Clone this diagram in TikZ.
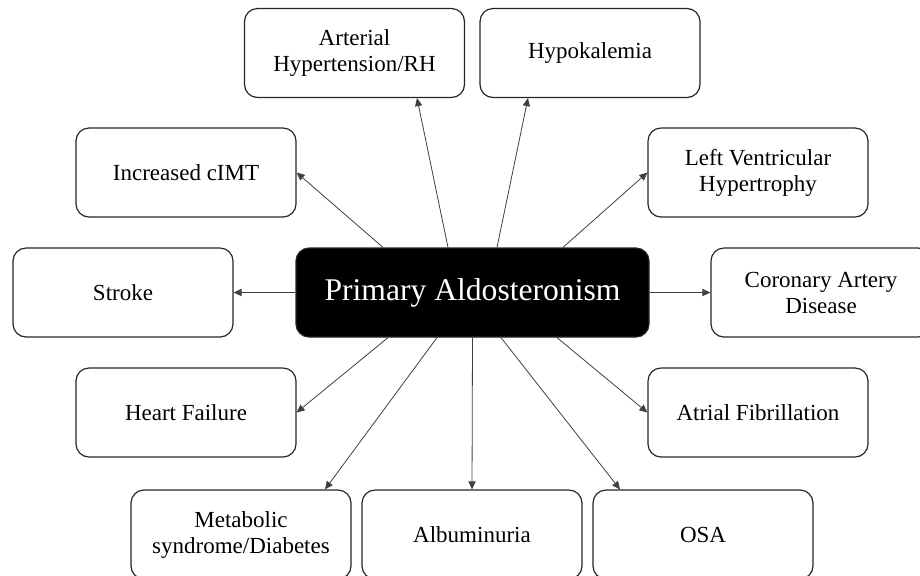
\documentclass[tikz,border=0pt]{standalone}
\usepackage{fontspec}
\setmainfont{Liberation Serif}
\usepackage{tikz}
\usetikzlibrary{arrows.meta}

\begin{document}
\begin{tikzpicture}[
    x=0.5pt, y=-0.5pt,
    box/.style={draw=black!85, line width=0.6pt, rounded corners=6.5pt, minimum width=110pt,
                minimum height=44.5pt, inner sep=0pt, align=center,
                font=\fontsize{11.5}{13}\selectfont},
    hub/.style={box, fill=black, text=white, minimum width=176.5pt,
                font=\fontsize{15.8}{18}\selectfont},
    arr/.style={-{Triangle[length=4pt, width=3.6pt]}, line width=0.4pt, draw=black!75}
]
\useasboundingbox (0,0) rectangle (920,575);
\node[hub] (pa) at (472.5,292.5) {Primary Aldosteronism};

\node[box] (art) at (354.5,53) {Arterial\\Hypertension/RH};
\node[box] (hypo) at (590,53) {Hypokalemia};
\node[box] (cimt) at (186,172.5) {Increased cIMT};
\node[box] (lvh) at (758,172.5) {Left Ventricular\\Hypertrophy};
\node[box] (stroke) at (123,292.5) {Stroke};
\node[box] (cad) at (821,292.5) {Coronary Artery\\Disease};
\node[box] (hf) at (186,412.5) {Heart Failure};
\node[box] (af) at (758,412.5) {Atrial Fibrillation};
\node[box] (met) at (241,534.5) {Metabolic\\syndrome/Diabetes};
\node[box] (alb) at (472,534.5) {Albuminuria};
\node[box] (osa) at (703,534.5) {OSA};

% upper side
\draw[arr] ([xshift=-44.75pt]pa.north) -- (cimt.east);
\draw[arr] ([xshift=-12.25pt]pa.north) -- ([xshift=31.25pt]art.south);
\draw[arr] ([xshift=12.25pt]pa.north) -- ([xshift=-31pt]hypo.south);
\draw[arr] ([xshift=45.25pt]pa.north) -- (lvh.west);

% left and right
\draw[arr] (pa.west) -- (stroke.east);
\draw[arr] (pa.east) -- (cad.west);

% lower side
\draw[arr] ([xshift=-42.25pt]pa.south) -- (hf.east);
\draw[arr] ([xshift=-17.75pt]pa.south) -- ([xshift=42pt]met.north);
\draw[arr] (pa.south) -- (alb.north);
\draw[arr] ([xshift=14.25pt]pa.south) -- ([xshift=-41.5pt]osa.north);
\draw[arr] ([xshift=42.25pt]pa.south) -- (af.west);
\end{tikzpicture}
\end{document}
